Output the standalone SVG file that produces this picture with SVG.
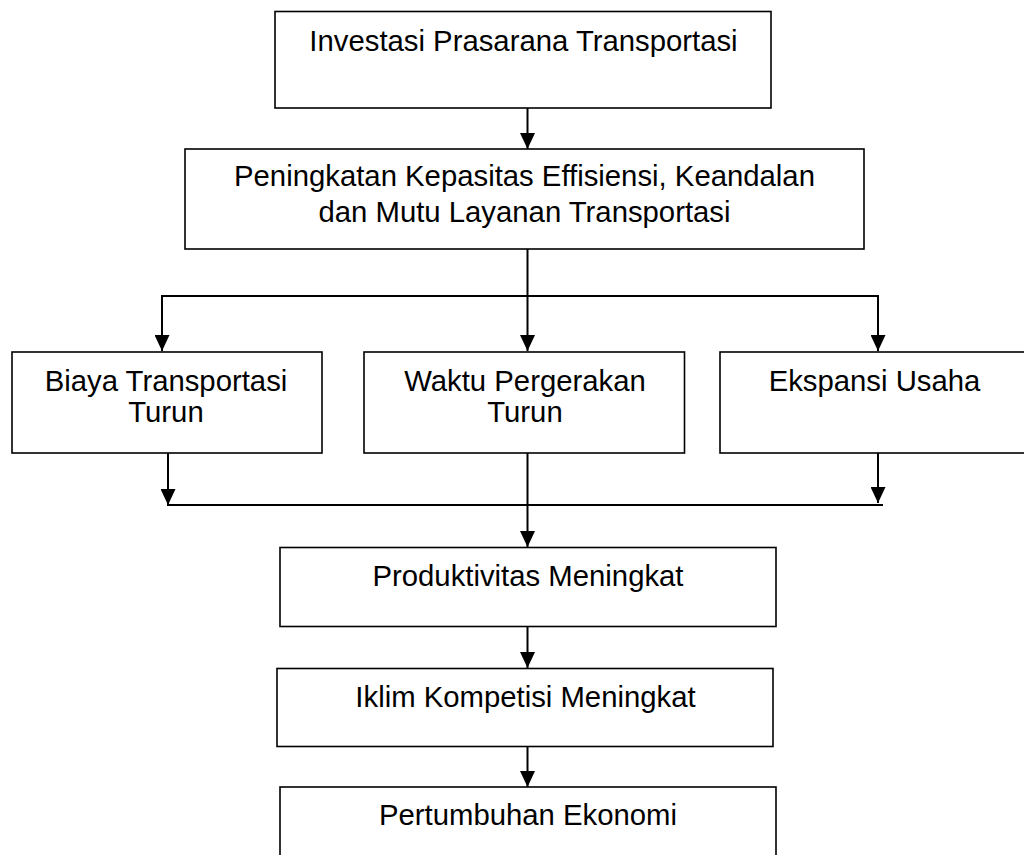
<svg xmlns="http://www.w3.org/2000/svg" width="1024" height="855" viewBox="0 0 1024 855">
<style>
.box{fill:#fff;stroke:#000;stroke-width:1.6}
.t{font-family:"Liberation Sans",Arial,sans-serif;font-size:29.3px;fill:#000;text-anchor:middle}
.c{fill:none;stroke:#000;stroke-width:2}
</style>
<defs>
<marker id="ah" markerUnits="userSpaceOnUse" markerWidth="16" markerHeight="15" refX="16" refY="7.5" orient="auto">
<path d="M0,0 L16,7.5 L0,15 z" fill="#000"/>
</marker>
</defs>
<rect width="1024" height="855" fill="#fff"/>
<g id="connectors">
<line class="c" x1="527.5" y1="108" x2="527.5" y2="149" marker-end="url(#ah)"/>
<line class="c" x1="527.5" y1="249" x2="527.5" y2="296"/>
<line class="c" x1="161" y1="296" x2="879" y2="296"/>
<line class="c" x1="162" y1="296" x2="162" y2="351" marker-end="url(#ah)"/>
<line class="c" x1="527.5" y1="296" x2="527.5" y2="351" marker-end="url(#ah)"/>
<line class="c" x1="878" y1="296" x2="878" y2="351" marker-end="url(#ah)"/>
<line class="c" x1="168" y1="453" x2="168" y2="505" marker-end="url(#ah)"/>
<line class="c" x1="878" y1="450" x2="878" y2="503" marker-end="url(#ah)"/>
<line class="c" x1="167" y1="505" x2="883" y2="505"/>
<line class="c" x1="527.5" y1="453" x2="527.5" y2="547" marker-end="url(#ah)"/>
<line class="c" x1="527.5" y1="627" x2="527.5" y2="668" marker-end="url(#ah)"/>
<line class="c" x1="527.5" y1="747" x2="527.5" y2="787" marker-end="url(#ah)"/>
</g>
<g id="n1">
<rect class="box" x="275" y="11.5" width="496" height="96.5"/>
<text class="t" x="523.5" y="50.5">Investasi Prasarana Transportasi</text>
</g>
<g id="n2">
<rect class="box" x="185" y="149" width="679" height="100"/>
<text class="t" x="524.5" y="186">Peningkatan Kepasitas Effisiensi, Keandalan</text>
<text class="t" x="524.5" y="222">dan Mutu Layanan Transportasi</text>
</g>
<g id="n3">
<rect class="box" x="12" y="352" width="310" height="101"/>
<text class="t" x="166" y="390.5">Biaya Transportasi</text>
<text class="t" x="166" y="422">Turun</text>
</g>
<g id="n4">
<rect class="box" x="364" y="352" width="320.5" height="101"/>
<text class="t" x="525" y="390.5">Waktu Pergerakan</text>
<text class="t" x="525" y="422">Turun</text>
</g>
<g id="n5">
<rect class="box" x="720" y="352" width="320" height="101"/>
<text class="t" x="874.5" y="390.5">Ekspansi Usaha</text>
</g>
<g id="n6">
<rect class="box" x="280" y="547.5" width="496" height="79"/>
<text class="t" x="528" y="585.5">Produktivitas Meningkat</text>
</g>
<g id="n7">
<rect class="box" x="277" y="668.5" width="496" height="78"/>
<text class="t" x="525.5" y="706.5">Iklim Kompetisi Meningkat</text>
</g>
<g id="n8">
<rect class="box" x="280" y="787" width="496" height="90"/>
<text class="t" x="528" y="825">Pertumbuhan Ekonomi</text>
</g>
</svg>
